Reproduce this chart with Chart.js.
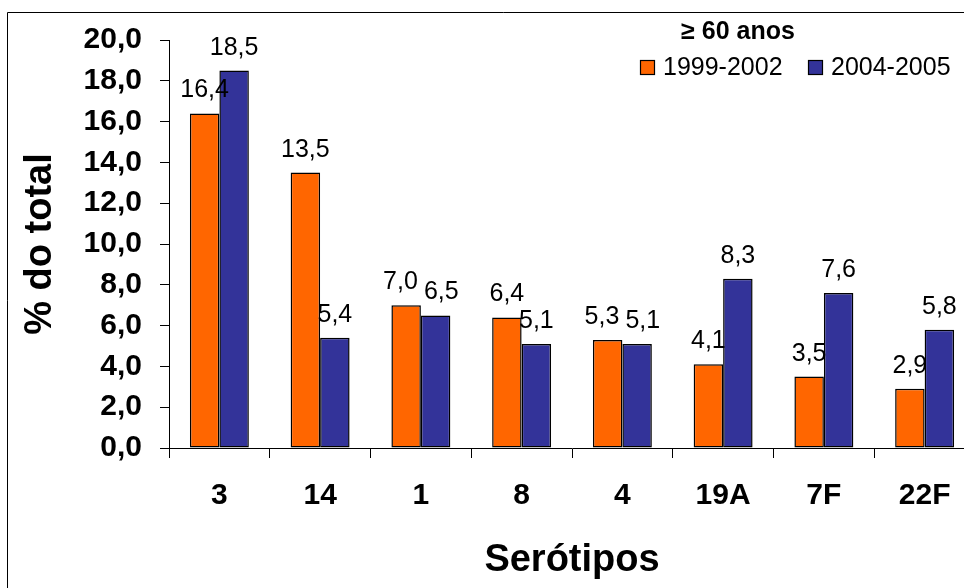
<!DOCTYPE html>
<html>
<head>
<meta charset="utf-8">
<script src="https://cdn.jsdelivr.net/npm/chart.js@4/dist/chart.umd.min.js"></script>
<style>
  html, body { margin: 0; padding: 0; background: #fff; overflow: hidden; }
  #wrap { position: relative; width: 964px; height: 588px; overflow: hidden; }
  canvas { display: block; }
</style>
</head>
<body>
<div id="wrap"><canvas id="c" width="1000" height="588"></canvas></div>
<script>
// Serotype distribution, age group >= 60
const serotipos = ['3', '14', '1', '8', '4', '19A', '7F', '22F'];
const periodo1999 = [16.4, 13.5, 7.0, 6.4, 5.3, 4.1, 3.5, 2.9];
const periodo2004 = [18.5, 5.4, 6.5, 5.1, 5.1, 8.3, 7.6, 5.8];
const seriesNames = ['1999-2002', '2004-2005'];
const legendTitle = '\u2265 60 anos';
const yTitle = '% do total';
const xTitle = 'Serótipos';

const FONT = '"Liberation Sans", Arial, Helvetica, sans-serif';
const fmt = v => Number(v).toFixed(1).replace('.', ',');

// Outer frame line (top and left edges)
const frame = {
  id: 'frame',
  beforeDraw(chart) {
    const ctx = chart.ctx;
    ctx.save();
    ctx.strokeStyle = '#000';
    ctx.lineWidth = 1;
    ctx.beginPath();
    ctx.moveTo(7.5, chart.height);
    ctx.lineTo(7.5, 12.5);
    ctx.lineTo(chart.width, 12.5);
    ctx.stroke();
    ctx.restore();
  }
};

// Value labels above the bars, nudged apart when a pair would collide
const valueLabels = {
  id: 'valueLabels',
  afterDatasetsDraw(chart) {
    const ctx = chart.ctx;
    ctx.save();
    ctx.font = '25px ' + FONT;
    ctx.fillStyle = '#000';
    ctx.textAlign = 'center';
    ctx.textBaseline = 'alphabetic';
    const capH = 18;
    chart.data.labels.forEach((_, i) => {
      const items = chart.data.datasets.map((ds, d) => {
        const bar = chart.getDatasetMeta(d).data[i];
        const text = fmt(ds.data[i]);
        return { x: bar.x, y: bar.y - 16, w: ctx.measureText(text).width, text };
      });
      const [a, b] = items;
      const hOverlap = (a.x + a.w / 2 + 6) - (b.x - b.w / 2);
      const vOverlap = Math.abs(a.y - b.y) < capH + 4;
      if (hOverlap > 0 && vOverlap) {
        a.x -= hOverlap / 2;
        b.x += hOverlap / 2;
      }
      items.forEach(it => ctx.fillText(it.text, it.x, it.y));
    });
    ctx.restore();
  }
};

// Legend box with heading, top right
const legendBox = {
  id: 'legendBox',
  afterDraw(chart) {
    const ctx = chart.ctx;
    ctx.save();
    ctx.fillStyle = '#000';
    ctx.textBaseline = 'alphabetic';
    ctx.textAlign = 'center';
    ctx.font = 'bold 25px ' + FONT;
    ctx.fillText(legendTitle, 738, 39);
    ctx.textAlign = 'left';
    ctx.font = '25px ' + FONT;
    const starts = [640, 808];
    chart.data.datasets.forEach((ds, d) => {
      const x = starts[d];
      ctx.fillStyle = ds.backgroundColor;
      ctx.fillRect(x, 60, 15, 15);
      ctx.strokeStyle = '#000';
      ctx.lineWidth = 1.2;
      ctx.strokeRect(x + 0.5, 60.5, 14, 14);
      ctx.fillStyle = '#000';
      ctx.fillText(ds.label, x + 23, 75);
    });
    ctx.restore();
  }
};

new Chart(document.getElementById('c'), {
  type: 'bar',
  data: {
    labels: serotipos,
    datasets: [
      { label: seriesNames[0], data: periodo1999, backgroundColor: '#FF6600',
        borderColor: '#000', borderWidth: 1.5, borderSkipped: false },
      { label: seriesNames[1], data: periodo2004, backgroundColor: '#333399',
        borderColor: '#000', borderWidth: 1.5, borderSkipped: false }
    ]
  },
  options: {
    responsive: false,
    animation: false,
    devicePixelRatio: 1,
    layout: { padding: { top: 40, right: 25, left: 0, bottom: 0 } },
    datasets: { bar: { categoryPercentage: 0.585, barPercentage: 1.0 } },
    plugins: {
      legend: { display: false },
      tooltip: { enabled: false },
      title: { display: false }
    },
    scales: {
      x: {
        offset: true,
        grid: { display: true, offset: true, drawOnChartArea: false, drawTicks: true,
                tickLength: 10, color: '#000', lineWidth: 1 },
        border: { display: true, color: '#000', width: 1 },
        ticks: { color: '#000', font: { family: FONT, size: 30, weight: 'bold' },
                 padding: 20, autoSkip: false, maxRotation: 0 },
        title: { display: true, text: xTitle, color: '#000',
                 font: { family: FONT, size: 38, weight: 'bold' },
                 padding: { top: 0, bottom: 5 } },
        afterFit(scale) { scale.height = 140; }
      },
      y: {
        min: 0, max: 20,
        grid: { display: true, drawOnChartArea: false, drawTicks: true,
                tickLength: 9, color: '#000', lineWidth: 1 },
        border: { display: true, color: '#000', width: 1 },
        ticks: { stepSize: 2, color: '#000', font: { family: FONT, size: 30, weight: 'bold' },
                 padding: 18, callback: v => fmt(v) },
        title: { display: true, text: yTitle, color: '#000',
                 font: { family: FONT, size: 38, weight: 'bold' },
                 padding: { top: 18, bottom: 0 } },
        afterFit(scale) { scale.width = 169; }
      }
    }
  },
  plugins: [frame, valueLabels, legendBox]
});
</script>
</body>
</html>
